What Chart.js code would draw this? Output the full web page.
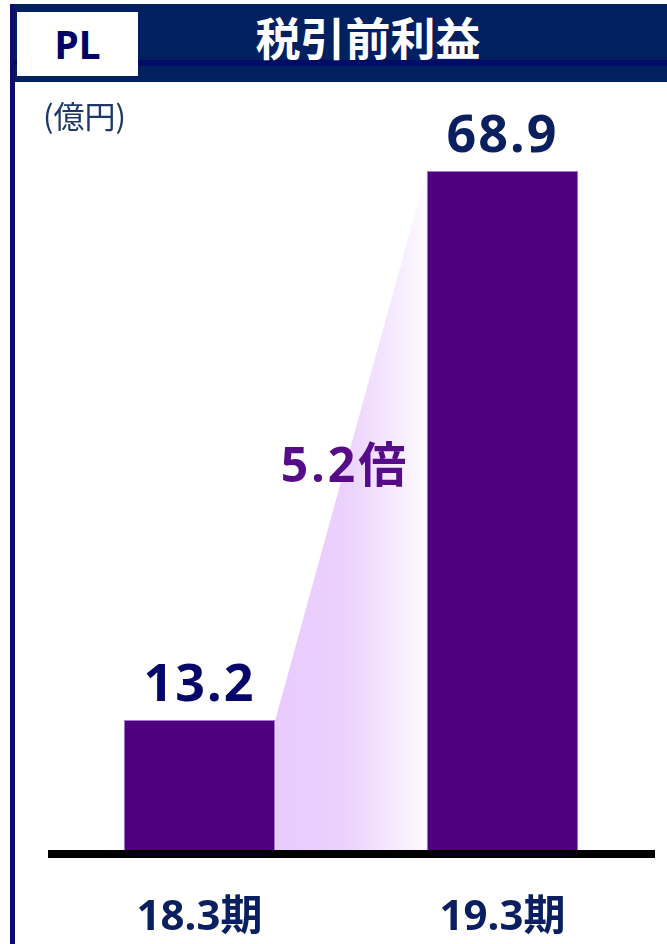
<!DOCTYPE html>
<html lang="ja">
<head>
<meta charset="utf-8">
<title>税引前利益</title>
<script src="https://cdn.jsdelivr.net/npm/chart.js@4/dist/chart.umd.min.js"></script>
<style>
    html, body { margin: 0; padding: 0; background: #fff; }
    body { width: 667px; height: 944px; position: relative; overflow: hidden; font-family: "Noto Sans", "Noto Sans CJK JP", sans-serif; }
    .frame-left { position: absolute; left: 10px; top: 4px; width: 5px; height: 940px; background: #0a0f6b; z-index: 3; }
    .header { position: absolute; left: 10px; top: 4px; width: 657px; height: 78px; background: #00205f; z-index: 2; }
    .header-stripe { position: absolute; left: 0; top: 56px; width: 657px; height: 6px; background: #000c66; }
    .pl-box { position: absolute; left: 7px; top: 8px; width: 121px; height: 64px; background: #fff; color: #000066;
        font: bold 39px "Noto Sans", sans-serif; line-height: 64px; text-align: center; }
    .title { position: absolute; left: 128px; top: 3px; width: 460px; height: 64px; color: #fff;
        font: bold 45px "Noto Sans CJK JP", sans-serif; line-height: 60px; text-align: center; }
    .unit { position: absolute; left: 43px; top: 92px; color: #1f3868; font: 31px "Noto Sans CJK JP", sans-serif; z-index: 2; }
    #chartWrap { position: absolute; left: 0; top: 0; width: 667px; height: 944px; z-index: 1; }
</style>
</head>
<body>
<div class="frame-left"></div>
<div class="header">
    <div class="header-stripe"></div>
    <div class="pl-box">PL</div>
    <div class="title">税引前利益</div>
</div>
<div class="unit">(億円)</div>
<div id="chartWrap"><canvas id="profitChart" width="667" height="944"></canvas></div>

<script>
// data
const categories = ["18.3期", "19.3期"];
const profitValues = [13.2, 68.9];
const valueLabels = ["13.2", "68.9"];
const ratioLabel = "5.2倍";
const ratioLabelValue = 37.3;

const barColor = "#4f0080";
const navy = "#0a1f60";

// light purple wedge joining the two bar tops
const growthWedge = {
    id: "growthWedge",
    beforeDatasetsDraw(chart) {
        const ctx = chart.ctx;
        const bars = chart.getDatasetMeta(0).data;
        if (bars.length < 2) return;
        const a = bars[0], b = bars[1];
        const x1 = a.x + a.width / 2;
        const x2 = b.x - b.width / 2;
        const base = chart.scales.y.getPixelForValue(0);
        const grad = ctx.createLinearGradient(x1, 0, x2, 0);
        grad.addColorStop(0, "#e8cbfd");
        grad.addColorStop(0.45, "#ebd1fd");
        grad.addColorStop(1, "#fdfaff");
        ctx.save();
        ctx.beginPath();
        ctx.moveTo(x1, a.y);
        ctx.lineTo(x2, b.y);
        ctx.lineTo(x2, base);
        ctx.lineTo(x1, base);
        ctx.closePath();
        ctx.fillStyle = grad;
        ctx.fill();
        ctx.restore();
    },
    afterDatasetsDraw(chart) {
        const ctx = chart.ctx;
        const area = chart.chartArea;
        const bars = chart.getDatasetMeta(0).data;
        ctx.save();
        // base line
        ctx.fillStyle = "#000";
        ctx.fillRect(area.left, area.bottom, area.right - area.left + 1, 8);

        // values over bars
        ctx.textAlign = "center";
        ctx.textBaseline = "alphabetic";
        ctx.font = "bold 52px 'Noto Sans'";
        ctx.letterSpacing = "2px";
        bars.forEach((bar, i) => {
            ctx.fillStyle = i === 0 ? "#07076b" : navy;
            ctx.fillText(valueLabels[i], bar.x, bar.y - 19);
        });

        // ratio
        const mid = (bars[0].x + bars[1].x) / 2 - 6;
        ctx.fillStyle = "#560c88";
        ctx.font = "bold 48px 'Noto Sans', 'Noto Sans CJK JP'";
        ctx.letterSpacing = "3px";
        ctx.fillText(ratioLabel, mid, chart.scales.y.getPixelForValue(ratioLabelValue));
        ctx.restore();
    }
};

new Chart(document.getElementById("profitChart"), {
    type: "bar",
    data: {
        labels: categories,
        datasets: [
            {
                data: profitValues,
                backgroundColor: barColor,
                borderColor: "#a57ad4",
                borderWidth: 1,
                categoryPercentage: 1,
                barPercentage: 0.5,
            },
        ],
    },
    options: {
        responsive: false,
        animation: false,
        devicePixelRatio: 1,
        layout: {
            padding: { top: 111, left: 48, right: 13, bottom: 0 },
        },
        plugins: {
            legend: { display: false },
            tooltip: { enabled: false },
        },
        scales: {
            x: {
                grid: { display: false, drawTicks: false },
                border: { display: false },
                ticks: {
                    color: navy,
                    padding: 43,
                    font: { family: "'Noto Sans', 'Noto Sans CJK JP'", weight: "bold", size: 42 },
                },
                afterFit: (scale) => {
                    scale.height = 94;
                },
            },
            y: {
                display: false,
                min: 0,
                max: 75,
            },
        },
    },
    plugins: [growthWedge],
});
</script>
</body>
</html>
